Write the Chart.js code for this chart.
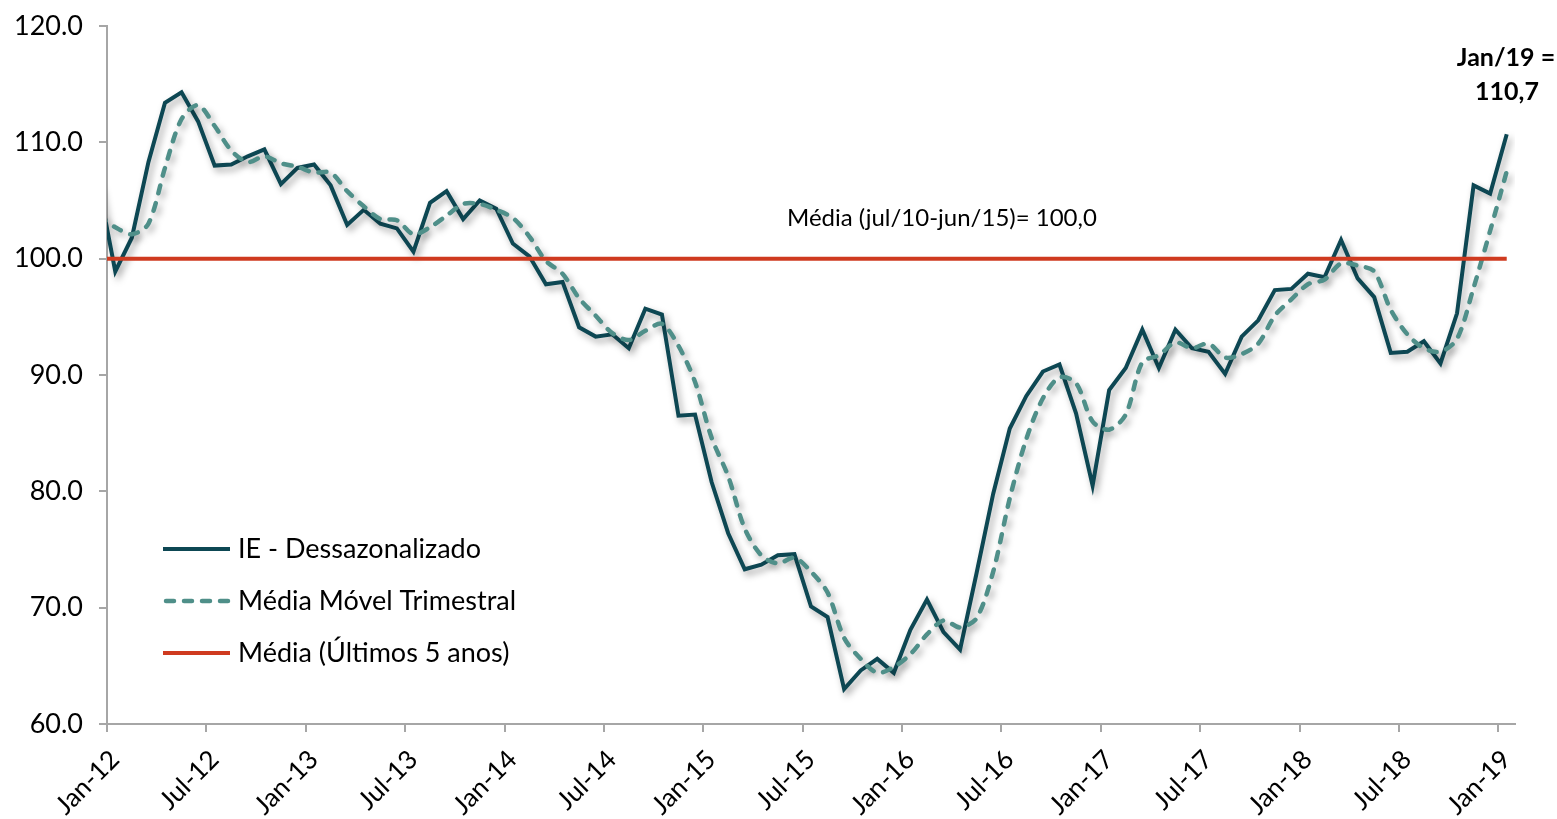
<!DOCTYPE html>
<html>
<head>
<meta charset="utf-8">
<script src="https://cdn.jsdelivr.net/npm/chart.js@4/dist/chart.umd.min.js"></script>
<style>
  body { margin: 0; background: #fff; }
  #wrap { width: 1557px; height: 819px; position: relative; }
</style>
</head>
<body>
<div id="wrap"><canvas id="ieChart"></canvas></div>
<script>
// months (Dec-11 is only the clipped lead-in point at the left edge)
const months = [
  "Dec-11",
  "Jan-12","Feb-12","Mar-12","Apr-12","May-12","Jun-12","Jul-12","Aug-12","Sep-12","Oct-12","Nov-12","Dec-12",
  "Jan-13","Feb-13","Mar-13","Apr-13","May-13","Jun-13","Jul-13","Aug-13","Sep-13","Oct-13","Nov-13","Dec-13",
  "Jan-14","Feb-14","Mar-14","Apr-14","May-14","Jun-14","Jul-14","Aug-14","Sep-14","Oct-14","Nov-14","Dec-14",
  "Jan-15","Feb-15","Mar-15","Apr-15","May-15","Jun-15","Jul-15","Aug-15","Sep-15","Oct-15","Nov-15","Dec-15",
  "Jan-16","Feb-16","Mar-16","Apr-16","May-16","Jun-16","Jul-16","Aug-16","Sep-16","Oct-16","Nov-16","Dec-16",
  "Jan-17","Feb-17","Mar-17","Apr-17","May-17","Jun-17","Jul-17","Aug-17","Sep-17","Oct-17","Nov-17","Dec-17",
  "Jan-18","Feb-18","Mar-18","Apr-18","May-18","Jun-18","Jul-18","Aug-18","Sep-18","Oct-18","Nov-18","Dec-18",
  "Jan-19"
];

// IE - Dessazonalizado
const ieValues = [
  106.3,
  98.9, 101.8, 108.3, 113.4, 114.3, 111.8, 108.0, 108.1, 108.8, 109.4, 106.4, 107.8,
  108.1, 106.3, 102.9, 104.2, 103.0, 102.6, 100.6, 104.8, 105.8, 103.4, 105.0, 104.3,
  101.3, 100.2, 97.8, 98.0, 94.1, 93.3, 93.5, 92.3, 95.7, 95.2, 86.5, 86.6,
  80.8, 76.4, 73.3, 73.7, 74.5, 74.6, 70.1, 69.2, 63.0, 64.6, 65.6, 64.4,
  68.1, 70.7, 67.9, 66.4, 73.0, 79.8, 85.4, 88.2, 90.3, 90.9, 86.7, 80.5,
  88.7, 90.6, 93.9, 90.6, 93.9, 92.3, 92.0, 90.1, 93.3, 94.7, 97.3, 97.4,
  98.7, 98.4, 101.6, 98.3, 96.7, 91.9, 92.0, 92.9, 91.0, 95.3, 106.3, 105.6,
  110.7
];

// Média Móvel Trimestral
const mmValues = [
  103.6,
  102.7, 102.1, 103.0, 107.8, 112.0, 113.2, 111.4, 109.3, 108.3, 108.8, 108.2, 107.9,
  107.4, 107.4, 105.8, 104.5, 103.4, 103.3, 102.1, 102.7, 103.7, 104.7, 104.7, 104.2,
  103.5, 101.9, 99.8, 98.7, 96.6, 95.1, 93.6, 93.0, 93.8, 94.4, 92.5, 89.4,
  84.6, 81.3, 76.8, 74.5, 73.8, 74.3, 73.1, 71.3, 67.4, 65.6, 64.4, 64.9,
  66.0, 67.7, 68.9, 68.3, 69.1, 73.1, 79.4, 84.5, 88.0, 89.8, 89.3, 86.0,
  85.3, 86.6, 91.1, 91.7, 92.8, 92.3, 92.7, 91.5, 91.8, 92.7, 95.1, 96.5,
  97.8, 98.2, 99.6, 99.4, 98.9, 95.6, 93.5, 92.3, 92.0, 93.1, 97.5, 102.4,
  107.5
];

// Média (jul/10-jun/15)
const mediaValue = 100.0;

const tickLabels = ["Jan-12","Jul-12","Jan-13","Jul-13","Jan-14","Jul-14","Jan-15","Jul-15",
                    "Jan-16","Jul-16","Jan-17","Jul-17","Jan-18","Jul-18","Jan-19"];

const FONT = "Lato, 'Open Sans', sans-serif";
const AXIS_GRAY = "#A6A6A6";

const iePoints = ieValues.map((v, i) => ({ x: i, y: v }));
const mmPoints = mmValues.map((v, i) => ({ x: i, y: v }));
const mediaPoints = months.map((m, i) => ({ x: i, y: mediaValue }));

const shadowPlugin = {
  id: "lineShadow",
  beforeDatasetDraw(chart, args) {
    if (!chart.data.datasets[args.index].shadow) return;
    const ctx = chart.ctx;
    ctx.save();
    ctx.shadowColor = "rgba(0,0,0,0.35)";
    ctx.shadowBlur = 7;
    ctx.shadowOffsetX = 3;
    ctx.shadowOffsetY = 4;
  },
  afterDatasetDraw(chart, args) {
    if (chart.data.datasets[args.index].shadow) chart.ctx.restore();
  }
};

const notesPlugin = {
  id: "notes",
  afterDraw(chart) {
    const ctx = chart.ctx;
    ctx.save();

    // legend inside the plot
    const rows = [549, 601, 653];
    chart.data.datasets.forEach((ds, i) => {
      const y = rows[i];
      ctx.save();
      ctx.strokeStyle = ds.borderColor;
      ctx.lineWidth = ds.borderWidth;
      ctx.lineCap = ds.borderDash ? "round" : "butt";
      ctx.setLineDash(ds.borderDash || []);
      ctx.beginPath();
      ctx.moveTo(ds.borderDash ? 166 : 163, y);
      ctx.lineTo(230, y);
      ctx.stroke();
      ctx.restore();
      ctx.fillStyle = "#000";
      ctx.font = "27px " + FONT;
      ctx.textBaseline = "middle";
      ctx.textAlign = "left";
      ctx.fillText(ds.label, 238, y);
    });

    // average label
    ctx.fillStyle = "#000";
    ctx.font = "24px " + FONT;
    ctx.textAlign = "left";
    ctx.textBaseline = "middle";
    ctx.fillText("Média (jul/10-jun/15)= 100,0", 787, 218);

    // last value callout
    ctx.font = "bold 25px " + FONT;
    ctx.textAlign = "center";
    ctx.fillText("Jan/19 =", 1506, 58);
    ctx.fillText("110,7", 1507, 92);
    ctx.restore();
  }
};

new Chart(document.getElementById("ieChart"), {
  type: "line",
  data: {
    datasets: [
      {
        label: "IE - Dessazonalizado",
        data: iePoints,
        borderColor: "#0D4753",
        borderWidth: 4,
        pointRadius: 0,
        tension: 0,
        order: 3,
        shadow: true,
        clip: 0
      },
      {
        label: "Média Móvel Trimestral",
        data: mmPoints,
        borderColor: "#4F8F89",
        borderWidth: 4.5,
        borderDash: [8, 10],
        borderCapStyle: "round",
        pointRadius: 0,
        tension: 0.3,
        order: 2,
        shadow: true,
        clip: 0
      },
      {
        label: "Média (Últimos 5 anos)",
        data: mediaPoints,
        borderColor: "#CF3A1F",
        borderWidth: 4,
        pointRadius: 0,
        order: 1,
        clip: 0
      }
    ]
  },
  options: {
    responsive: true,
    maintainAspectRatio: false,
    animation: false,
    layout: { padding: { top: 26, right: 42, left: 0, bottom: 0 } },
    plugins: {
      legend: { display: false },
      tooltip: { enabled: false }
    },
    scales: {
      x: {
        type: "linear",
        min: 0.5,
        max: 85.5,
        afterBuildTicks(scale) {
          scale.ticks = tickLabels.map(l => ({ value: months.indexOf(l) - 0.5 }));
        },
        afterFit(scale) { scale.height = 95; },
        ticks: {
          autoSkip: false,
          minRotation: 45,
          maxRotation: 45,
          padding: 12,
          labelOffset: 8,
          color: "#000",
          font: { family: FONT, size: 26 },
          callback: v => months[Math.round(v + 0.5)]
        },
        grid: { drawOnChartArea: false, color: AXIS_GRAY, lineWidth: 2, tickLength: 8 },
        border: { color: AXIS_GRAY, width: 2 }
      },
      y: {
        min: 60,
        max: 120,
        afterFit(scale) {
          scale.width = 107;
          scale.paddingTop = 0;
          scale.paddingBottom = 0;
        },
        ticks: {
          stepSize: 10,
          padding: 16,
          color: "#000",
          font: { family: FONT, size: 27, lineHeight: 0.8 },
          callback: v => v.toFixed(1)
        },
        grid: { drawOnChartArea: false, color: AXIS_GRAY, lineWidth: 2, tickLength: 8 },
        border: { color: AXIS_GRAY, width: 2 }
      }
    }
  },
  plugins: [shadowPlugin, notesPlugin]
});
</script>
</body>
</html>
